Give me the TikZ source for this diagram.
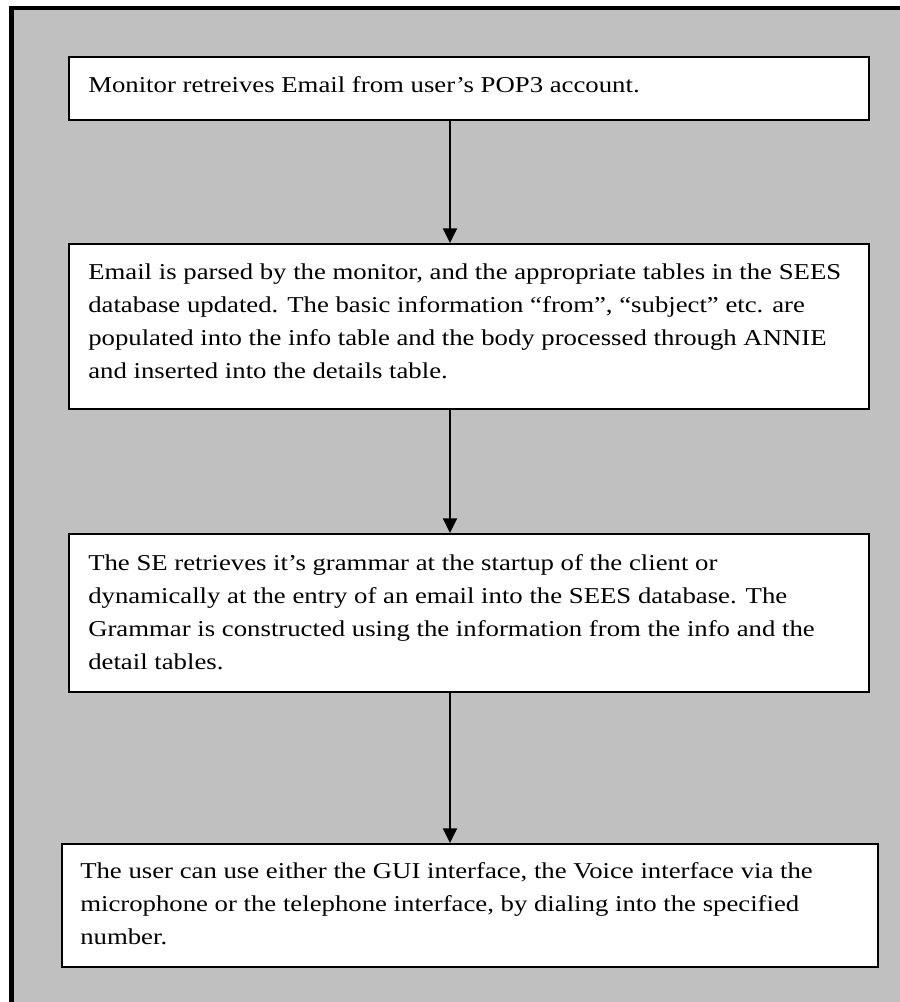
\documentclass[tikz,border=0pt]{standalone}
\usepackage{fontspec}
\setmainfont{Liberation Serif}[FakeStretch=1.18]
\usetikzlibrary{arrows.meta}
\definecolor{panel}{HTML}{C0C0C0}

\newcommand{\steplines}[1]{\parbox[t]{640pt}{\fontsize{17pt}{24.75pt}\selectfont #1}}

\begin{document}
\begin{tikzpicture}[x=0.75pt,y=-0.75pt,
  stepbox/.style={draw=black, fill=white, line width=1.5pt, rectangle, inner sep=0pt},
  steptext/.style={inner sep=0pt, anchor=base west},
  flow/.style={draw=black, line width=1.5pt, -{Triangle[width=10.5pt,length=11pt]}}]
  \useasboundingbox (0,0) rectangle (899,1002);

  % page background and framed grey panel
  \fill[white] (0,0) rectangle (899,1002);
  \draw[line width=3.5pt, fill=panel] (11.5,8) rectangle (915,1020);

  % process steps
  \node[stepbox, minimum width=600pt, minimum height=47.25pt] (s1) at (469,88.5) {};
  \node[stepbox, minimum width=600pt, minimum height=123.75pt] (s2) at (469,326.5) {};
  \node[stepbox, minimum width=600pt, minimum height=118.5pt] (s3) at (469,613) {};
  \node[stepbox, minimum width=612pt, minimum height=92.25pt] (s4) at (470,905.5) {};

  \node[steptext] (t1) at (88,93) {\steplines{Monitor retreives Email from user’s POP3 account.}};
  \node[steptext] (t2) at (88,279) {\steplines{Email is parsed by the monitor, and the appropriate tables in the SEES\\
    database updated. The basic information “from”, “subject” etc. are\\
    populated into the info table and the body processed through ANNIE\\
    and inserted into the details table.}};
  \node[steptext] (t3) at (88,570) {\steplines{The SE retrieves it’s grammar at the startup of the client or\\
    dynamically at the entry of an email into the SEES database. The\\
    Grammar is constructed using the information from the info and the\\
    detail tables.}};
  \node[steptext] (t4) at (80,878) {\steplines{The user can use either the GUI interface, the Voice interface via the\\
    microphone or the telephone interface, by dialing into the specified\\
    number.}};

  % connectors
  \coordinate (axis) at (450,0);
  \draw[flow] (s1.south -| axis) -- (s2.north -| axis);
  \draw[flow] (s2.south -| axis) -- (s3.north -| axis);
  \draw[flow] (s3.south -| axis) -- (s4.north -| axis);
\end{tikzpicture}
\end{document}
